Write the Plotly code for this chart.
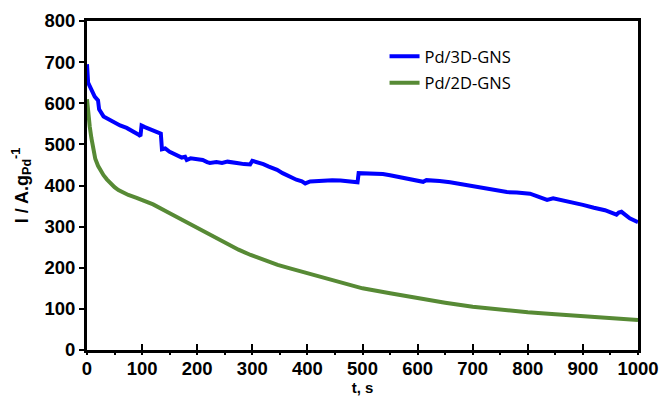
import plotly.graph_objects as go

t_3d = [0, 2, 8, 14, 20, 22, 30, 40, 48, 60, 72, 84, 93, 97, 99, 105, 115, 127, 134, 136,
        142, 150, 156, 165, 172, 178, 181, 188, 200, 210, 218, 223, 235, 245, 255, 265, 275,
        285, 296, 300, 310, 320, 330, 338, 345, 355, 368, 380, 390, 396, 405, 415, 423, 435,
        445, 460, 475, 488, 491, 493, 505, 520, 537, 550, 562, 575, 590, 602, 610, 616, 622,
        640, 659, 680, 700, 719, 740, 762, 780, 795, 804, 815, 825, 835, 846, 860, 880, 900,
        920, 940, 961, 965, 970, 975, 985, 1000]
i_3d = [695, 650, 633, 616, 607, 585, 568, 560, 554, 546, 540, 532, 524, 520, 546, 542, 536, 528, 526, 488,
        490, 482, 478, 474, 468, 470, 462, 466, 463, 462, 457, 455, 457, 455, 458, 455, 454,
        452, 451, 460, 457, 452, 446, 442, 438, 430, 421, 414, 410, 405, 410, 411, 413, 414,
        413, 412, 411, 408, 408, 430, 430, 429, 428, 425, 422, 420, 416, 412, 409, 413, 413,
        411, 408, 403, 399, 394, 388, 384, 383, 382, 380, 375, 370, 365, 369, 365, 360, 353,
        346, 340, 329, 334, 336, 331, 320, 311]

t_2d = [0, 2, 5, 8, 11, 15, 20, 24, 30, 36, 42, 50, 57, 65, 75, 90, 100, 120, 145, 170, 194,
        220, 249, 275, 297, 320, 346, 370, 400, 425, 452, 475, 500, 550, 600, 650, 700, 750,
        800, 850, 900, 950, 1000]
i_2d = [610, 575, 543, 515, 490, 465, 448, 438, 425, 415, 406, 396, 389, 383, 377, 370, 365, 354, 336, 318, 300,
        281, 260, 244, 231, 219, 207, 198, 187, 177, 166, 158, 150, 138, 126, 115, 105, 98,
        92, 87, 83, 78, 73]

x_ticks = [0, 100, 200, 300, 400, 500, 600, 700, 800, 900, 1000]
y_ticks = [0, 100, 200, 300, 400, 500, 600, 700, 800]

tick_font = dict(family="Liberation Sans, Arial", size=18.5, color="black", weight="bold")

fig = go.Figure()
fig.add_trace(go.Scatter(x=t_3d, y=i_3d, mode="lines", name="Pd/3D-GNS", legendgroup="a",
                         line=dict(color="#0000FF", width=4)))
fig.add_trace(go.Scatter(x=t_2d, y=i_2d, mode="lines", name="Pd/2D-GNS", legendgroup="b",
                         line=dict(color="#578A35", width=4)))
# helper trace for secondary x axis (tick marks below axis)
fig.add_trace(go.Scatter(x=[0], y=[0], xaxis="x2", mode="markers", marker=dict(opacity=0),
                         showlegend=False, hoverinfo="skip"))

fig.update_layout(
    width=660, height=409,
    margin=dict(l=87, r=22, t=21, b=59),
    paper_bgcolor="white", plot_bgcolor="white",
    xaxis=dict(range=[0, 1000], tickvals=x_ticks, ticks="inside", ticklen=6, tickwidth=2,
               tickcolor="black", showline=True, linewidth=3, linecolor="black", mirror=True,
               showgrid=False, zeroline=False, tickfont=tick_font, automargin=False,
               title=dict(text="t, s", font=dict(family="Liberation Sans, Arial", size=15,
                                                  color="black", weight="bold"), standoff=3)),
    xaxis2=dict(range=[0, 1000], overlaying="x", side="bottom", anchor="y",
                tickmode="linear", tick0=0, dtick=50, ticks="outside", ticklen=4, tickwidth=2,
                tickcolor="black", showticklabels=False, showgrid=False, zeroline=False,
                showline=False, automargin=False),
    yaxis=dict(range=[0, 800], tickvals=y_ticks, ticks="outside", ticklen=5, tickwidth=2,
               tickcolor="black", showline=True, linewidth=3, linecolor="black", mirror=True,
               showgrid=False, zeroline=False, tickfont=tick_font, automargin=False,
               title=dict(text="I / A.g<sub>Pd</sub><sup>-1</sup>",
                          font=dict(family="Liberation Sans, Arial", size=18, color="black",
                                    weight="bold"), standoff=12)),
    legend=dict(x=0.54, y=0.945, xanchor="left", yanchor="top", bgcolor="rgba(0,0,0,0)",
                font=dict(family="Open Sans", size=16.5, color="black"),
                tracegroupgap=2, itemwidth=30),
    showlegend=True,
)

fig.write_html("out.html", post_script="document.body.style.margin='0';",
               config={"displayModeBar": False})
